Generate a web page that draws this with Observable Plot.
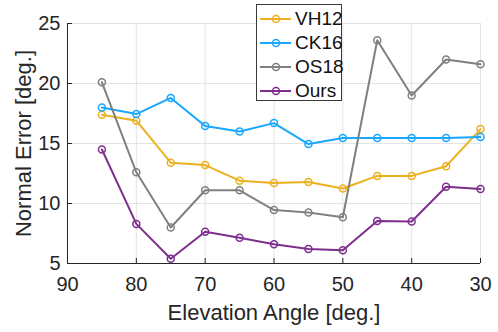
<!DOCTYPE html>
<html><head><meta charset="utf-8">
<script src="https://cdn.jsdelivr.net/npm/d3@7"></script>
<script src="https://cdn.jsdelivr.net/npm/@observablehq/plot@0.6"></script>
<style>
body{margin:0;background:#fff;}
#wrap{position:relative;width:498px;height:332px;font-family:"Liberation Sans",Arial,sans-serif;}
#legend{position:absolute;left:256px;top:4px;width:86px;height:97px;border:1px solid #3a3a3a;background:#fff;box-sizing:border-box;}
.row{position:absolute;left:0;height:24px;display:flex;align-items:center;}
.row span{font-size:19px;color:#111;margin-left:2px;}
</style></head>
<body><div id="wrap"><div id="legend"></div></div>
<script>
const angles = [85, 80, 75, 70, 65, 60, 55, 50, 45, 40, 35, 30];
const vh12 = [17.4, 16.9, 13.4, 13.2, 11.9, 11.7, 11.8, 11.25, 12.3, 12.3, 13.1, 16.2];
const ck16 = [18.0, 17.45, 18.8, 16.45, 16.0, 16.7, 14.95, 15.45, 15.45, 15.45, 15.45, 15.55];
const os18 = [20.1, 12.6, 8.0, 11.1, 11.1, 9.45, 9.25, 8.85, 23.6, 19.0, 22.0, 21.6];
const ours = [14.5, 8.3, 5.4, 7.65, 7.15, 6.6, 6.2, 6.1, 8.55, 8.5, 11.4, 11.2];
const seriesNames = ["VH12", "CK16", "OS18", "Ours"];
const seriesColors = ["#EDB120", "#1AA7FF", "#808080", "#7E2F8E"];
const xTicks = [90, 80, 70, 60, 50, 40, 30];
const yTicks = [5, 10, 15, 20, 25];

const allSeries = [vh12, ck16, os18, ours];
const data = allSeries.flatMap((vals, i) => vals.map((v, j) => ({series: seriesNames[i], angle: angles[j], err: v})));

const font = '"Liberation Sans", Arial, sans-serif';
const ink = "#262626";
const plot = Plot.plot({
  width: 498, height: 332,
  marginLeft: 67, marginRight: 18, marginTop: 23, marginBottom: 69,
  style: {fontFamily: font, color: ink, background: "#fff"},
  x: {domain: [90, 30]},
  y: {domain: [5, 25]},
  color: {domain: seriesNames, range: seriesColors},
  marks: [
    Plot.gridX(xTicks, {stroke: "#e3e3e3", strokeOpacity: 1}),
    Plot.gridY(yTicks, {stroke: "#e3e3e3", strokeOpacity: 1}),
    Plot.axisX(xTicks, {tickSize: 0, tickPadding: 13, fontSize: 20, label: null, fill: ink}),
    Plot.axisY(yTicks, {tickSize: 0, tickPadding: 7, fontSize: 20, label: null, fill: ink}),
    Plot.tickX(xTicks, {x: d => d, stroke: ink, insetTop: 235}),
    Plot.tickY(yTicks, {y: d => d, stroke: ink, insetRight: 408}),
    Plot.ruleY([5], {stroke: ink}),
    Plot.ruleX([90], {stroke: ink}),
    Plot.line(data, {x: "angle", y: "err", z: "series", stroke: "series", strokeWidth: 2}),
    Plot.dot(data, {x: "angle", y: "err", stroke: "series", r: 3.5, strokeWidth: 1.5, fill: "none"}),
    Plot.text(["Elevation Angle [deg.]"], {frameAnchor: "bottom", lineAnchor: "top", dy: 41, fontSize: 22, fill: ink}),
    Plot.text(["Normal Error [deg.]"], {frameAnchor: "left", textAnchor: "middle", lineAnchor: "middle", rotate: -90, dx: -44, fontSize: 22, fill: ink})
  ]
});
document.getElementById("wrap").prepend(plot);

const legend = document.getElementById("legend");
seriesNames.forEach((name, i) => {
  const row = document.createElement("div");
  row.className = "row";
  row.style.top = (2 + i * 24) + "px";
  row.innerHTML = `<svg width="36" height="24"><line x1="3" x2="34" y1="12" y2="12" stroke="${seriesColors[i]}" stroke-width="2"/><circle cx="19" cy="12" r="3.5" fill="none" stroke="${seriesColors[i]}" stroke-width="1.5"/></svg><span>${name}</span>`;
  legend.appendChild(row);
});
</script></body></html>
